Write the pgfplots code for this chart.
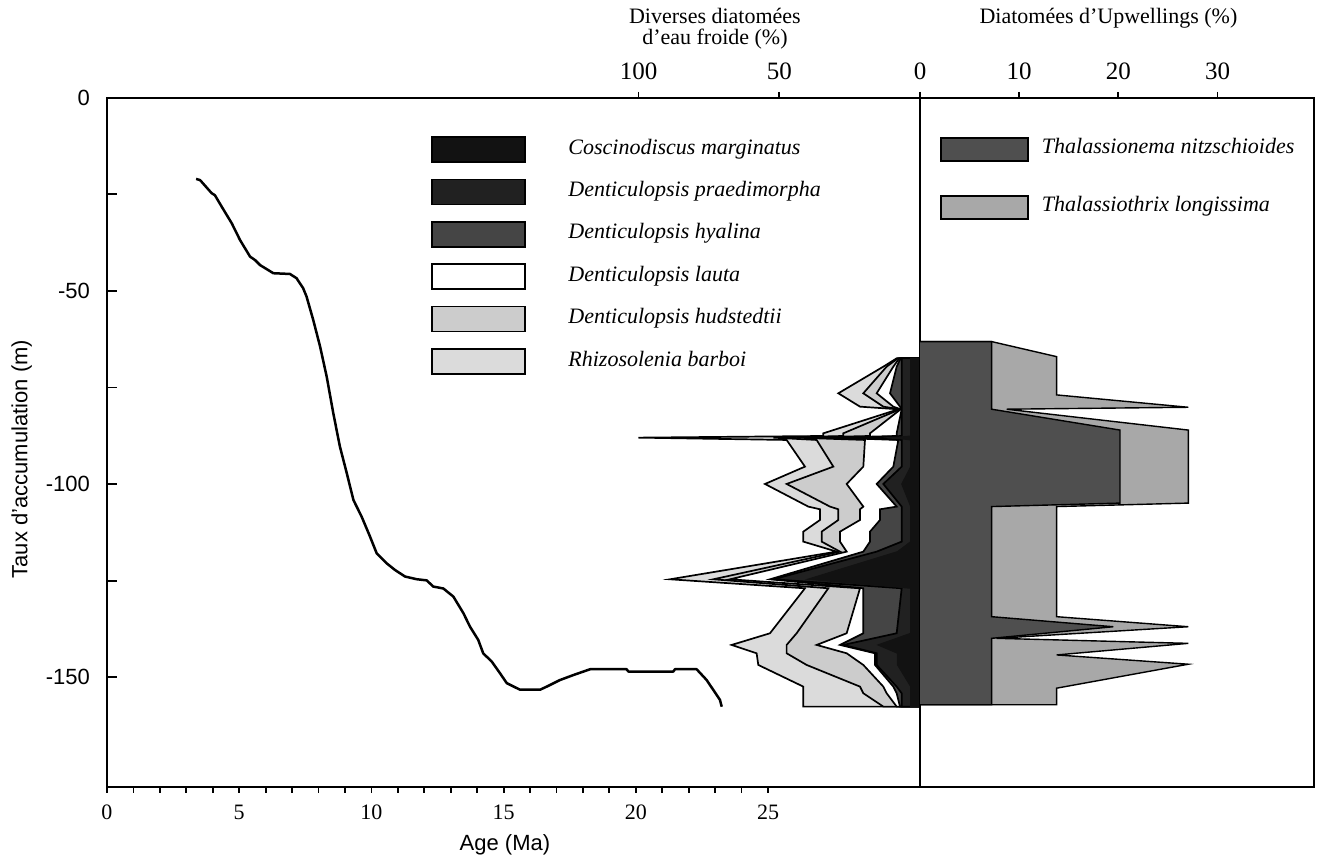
\documentclass[border=0pt]{standalone}
\usepackage{fontspec}
\setmainfont{Liberation Serif}
\setsansfont{Liberation Sans}
\usepackage{pgfplots}
\usepackage{pgfplotstable}
\pgfplotsset{compat=1.18}

\definecolor{cmarg}{gray}{0.07}
\definecolor{dpraed}{gray}{0.13}
\definecolor{dhyal}{gray}{0.27}
\definecolor{dhud}{gray}{0.80}
\definecolor{rbarb}{gray}{0.86}
\definecolor{tnitz}{gray}{0.31}
\definecolor{tlong}{gray}{0.66}

% Age curve: age (Ma), depth (m)
\pgfplotstableread{
age depth
3.37 -21.0
3.52 -21.3
3.96 -24.7
4.08 -25.2
4.34 -28.2
4.72 -32.5
5.03 -36.8
5.41 -41.1
5.60 -42.0
5.79 -43.3
6.10 -44.6
6.29 -45.4
6.92 -45.6
7.17 -46.7
7.42 -49.3
7.55 -51.5
7.80 -57.5
8.06 -64.4
8.31 -72.2
8.56 -81.7
8.81 -90.3
9.07 -97.2
9.32 -104.1
9.63 -108.4
9.95 -113.6
10.20 -117.9
10.58 -120.5
10.89 -122.2
11.27 -123.9
11.71 -124.6
12.09 -124.9
12.34 -126.5
12.72 -127.0
13.10 -129.1
13.48 -133.4
13.73 -136.9
14.04 -140.3
14.23 -143.8
14.55 -145.9
14.86 -148.9
15.12 -151.5
15.62 -153.2
16.38 -153.2
16.63 -152.4
17.13 -150.7
17.64 -149.4
18.27 -147.9
19.65 -147.9
19.72 -148.5
21.42 -148.5
21.48 -147.9
22.30 -147.9
22.68 -150.7
23.18 -155.8
23.25 -157.6
}\agecurve

% Cold-water diatoms, cumulative (%): B1 C. marginatus, B2 +D. praedimorpha,
% B3 +D. hyalina, B4 +D. lauta, B5 +D. hudstedtii, B6 +R. barboi
\pgfplotstableread{
d B1 B2 B3 B4 B5 B6
-67.43 0 0 0 0 0 0
-67.43 3.3 6.51 6.87 7.34 7.82 8.29
-69.58 3.3 6.51 8.29 9.48 11.85 13.03
-76.48 3.3 6.51 10.66 15.40 20.14 29.02
-79.94 3.3 6.51 7.11 9.48 13.03 21.32
-80.62 3.3 6.51 6.51 6.87 7.11 7.70
-86.84 3.3 6.51 8.29 17.77 27.25 34.36
-87.53 3.3 6.51 8.29 17.77 27.25 34.36
-87.96 10.0 20.14 31.99 43.84 52.13 100.1
-88.56 3.3 6.51 7.70 19.55 36.73 47.39
-95.46 3.3 6.51 9.48 20.14 30.80 40.88
-99.95 6.5 13.03 15.40 26.06 47.39 55.09
-105.81 3.3 6.51 8.29 20.14 31.99 39.69
-106.50 3.3 6.51 14.22 21.32 29.02 35.54
-109.27 3.3 6.51 14.22 21.32 29.02 35.54
-112.29 3.3 6.51 17.77 28.43 34.95 41.47
-114.87 3.3 6.51 17.77 28.43 34.95 41.47
-117.46 8.0 15.40 20.14 26.06 28.43 29.62
-124.62 40.0 52.13 53.31 67.54 73.46 88.86
-126.95 3.3 6.51 20.14 21.32 32.58 40.88
-138.59 3.3 8.29 20.14 26.06 43.84 53.31
-141.61 15.0 27.25 28.43 36.73 47.39 66.94
-143.77 8.0 15.40 15.99 26.06 47.39 58.06
-146.79 8.0 15.40 15.99 20.14 40.28 57.46
-152.40 3.3 8.29 9.48 13.03 21.32 41.47
-154.12 3.3 6.51 8.29 11.85 20.14 41.47
-157.57 3.3 6.51 7.11 8.29 13.03 41.47
-157.57 0 0 0 0 0 0
}\cold

% Upwelling diatoms, cumulative (%): TN T. nitzschioides, TL +T. longissima
\pgfplotstableread{
d TN TL
-63.1 0 0
-63.1 7.22 7.22
-67.0 7.22 13.78
-76.9 7.22 13.78
-80.1 7.22 27.05
-80.6 7.22 8.74
-86.0 20.16 27.05
-104.9 20.16 27.05
-105.8 7.22 13.78
-134.3 7.22 13.78
-136.9 19.49 27.05
-139.9 7.22 7.73
-141.2 7.22 27.05
-144.2 7.22 13.78
-146.6 7.22 27.05
-152.8 7.22 13.78
-157.1 7.22 13.78
-157.1 0 0
}\upw

\pgfplotsset{
  base/.style={
    scale only axis, width=603.5pt, height=344.45pt,
    at={(0pt,0pt)}, anchor=south west,
    ymin=-178.3, ymax=0,
    every axis title shift=0pt,
    /pgf/number format/assume math mode=true,
  },
}

\begin{document}
\begin{tikzpicture}
\useasboundingbox (-53.5pt,-34.65pt) rectangle (610.5pt,393.35pt);

% Frame, y axis and age curve
\begin{axis}[base, xmin=0, xmax=45.65,
  axis line style={line width=1pt},
  xtick=\empty,
  ytick={0,-50,-100,-150}, minor ytick={-25,-75,-125},
  ytick pos=left, tick align=inside,
  major tick length=5pt, minor tick length=5pt,
  every tick/.style={black, line width=0.9pt},
  yticklabel style={font=\sffamily\fontsize{11}{13}\selectfont, xshift=-5pt},
  ylabel={Taux d'accumulation (m)},
  ylabel style={font=\sffamily\fontsize{11}{13}\selectfont, at={(axis description cs:-0.0707,0.4756)}, anchor=center, rotate=0},
  xlabel={Age (Ma)},
  xlabel style={font=\sffamily\fontsize{11}{13}\selectfont, at={(axis description cs:0.3297,-0.0846)}, anchor=center},
]
\addplot[black, line width=1.25pt, line join=round] table[x=age, y=depth] {\agecurve};
\end{axis}

% Bottom age ticks
\begin{axis}[base, xmin=0, xmax=45.65,
  axis x line*=bottom, axis y line=none,
  axis line style={line width=1pt},
  xtick={0,5,...,25}, minor xtick={1,...,24},
  tick align=outside, major tick length=3pt, minor tick length=3pt,
  every tick/.style={black, line width=0.9pt},
  xticklabel style={font=\fontsize{11}{13}\selectfont, yshift=-2.5pt},
]
\end{axis}

% Cold-water diatoms (reversed %)
\begin{axis}[base, x dir=reverse, xmin=-140.0, xmax=288.9,
  axis x line*=top, axis y line=none,
  axis line style={line width=1pt},
  xtick={0,50,100},
  tick align=outside, major tick length=3pt,
  every tick/.style={black, line width=0.9pt},
  xticklabel style={font=\fontsize{12.5}{14}\selectfont, yshift=2.5pt},
  title={Diverses diatomées\\d'eau froide (\%)},
  title style={font=\fontsize{11}{10.5}\selectfont, align=center, at={(axis description cs:0.5037,1.1005)}, anchor=center},
  legend style={at={(axis description cs:0.2682,0.9448)}, anchor=north west, draw=none, fill=none,
    inner sep=0pt, row sep=7.9pt, column sep=21.35pt,
    font=\itshape\fontsize{11}{13}\selectfont, nodes={inner sep=0pt, text height=7.6pt, text depth=2.4pt}},
  legend cell align=left,
  legend image code/.code={\filldraw[#1] (0pt,-6.55pt) rectangle (46.5pt,5.95pt);},
]
\addlegendimage{fill=cmarg, draw=black, line width=0.8pt}
\addlegendentry{Coscinodiscus marginatus}
\addlegendimage{fill=dpraed, draw=black, line width=0.8pt}
\addlegendentry{Denticulopsis praedimorpha}
\addlegendimage{fill=dhyal, draw=black, line width=0.8pt}
\addlegendentry{Denticulopsis hyalina}
\addlegendimage{fill=white, draw=black, line width=0.8pt}
\addlegendentry{Denticulopsis lauta}
\addlegendimage{fill=dhud, draw=black, line width=0.8pt}
\addlegendentry{Denticulopsis hudstedtii}
\addlegendimage{fill=rbarb, draw=black, line width=0.8pt}
\addlegendentry{Rhizosolenia barboi}
\addplot[forget plot, fill=rbarb, draw=black, line width=0.85pt, line join=miter] table[x=B6, y=d] {\cold};
\addplot[forget plot, fill=dhud, draw=black, line width=0.85pt] table[x=B5, y=d] {\cold};
\addplot[forget plot, fill=white, draw=black, line width=0.85pt] table[x=B4, y=d] {\cold};
\addplot[forget plot, fill=dhyal, draw=black, line width=0.85pt] table[x=B3, y=d] {\cold};
\addplot[forget plot, fill=dpraed, draw=black, line width=0.85pt] table[x=B2, y=d] {\cold};
\addplot[forget plot, fill=cmarg, draw=cmarg, line width=0.5pt] table[x=B1, y=d] {\cold};
\end{axis}

% Upwelling diatoms
\begin{axis}[base, xmin=-81.96, xmax=39.72,
  axis x line*=top, axis y line=none,
  axis line style={line width=1pt},
  xtick={10,20,30},
  extra x ticks={0}, extra x tick labels={},
  extra x tick style={grid=major, major grid style={black, line width=1pt}},
  tick align=outside, major tick length=3pt,
  every tick/.style={black, line width=0.9pt},
  xticklabel style={font=\fontsize{12.5}{14}\selectfont, yshift=2.5pt},
  title={Diatomées d'Upwellings (\%)},
  title style={font=\fontsize{11}{13}\selectfont, at={(axis description cs:0.8297,1.1155)}, anchor=center},
  legend style={at={(axis description cs:0.6901,0.943)}, anchor=north west, draw=none, fill=none,
    inner sep=0pt, row sep=16.5pt, column sep=6.5pt,
    font=\itshape\fontsize{11}{13}\selectfont, nodes={inner sep=0pt, text height=7.6pt, text depth=2.4pt}},
  legend cell align=left,
  legend image code/.code={\filldraw[#1] (0pt,-6.3pt) rectangle (43.5pt,5.2pt);},
]
\addlegendimage{fill=tnitz, draw=black, line width=0.8pt}
\addlegendentry{Thalassionema nitzschioides}
\addlegendimage{fill=tlong, draw=black, line width=0.8pt}
\addlegendentry{Thalassiothrix longissima}
\addplot[forget plot, fill=tlong, draw=black, line width=0.7pt] table[x=TL, y=d] {\upw};
\addplot[forget plot, fill=tnitz, draw=black, line width=0.7pt] table[x=TN, y=d] {\upw};
\end{axis}
\end{tikzpicture}
\end{document}
